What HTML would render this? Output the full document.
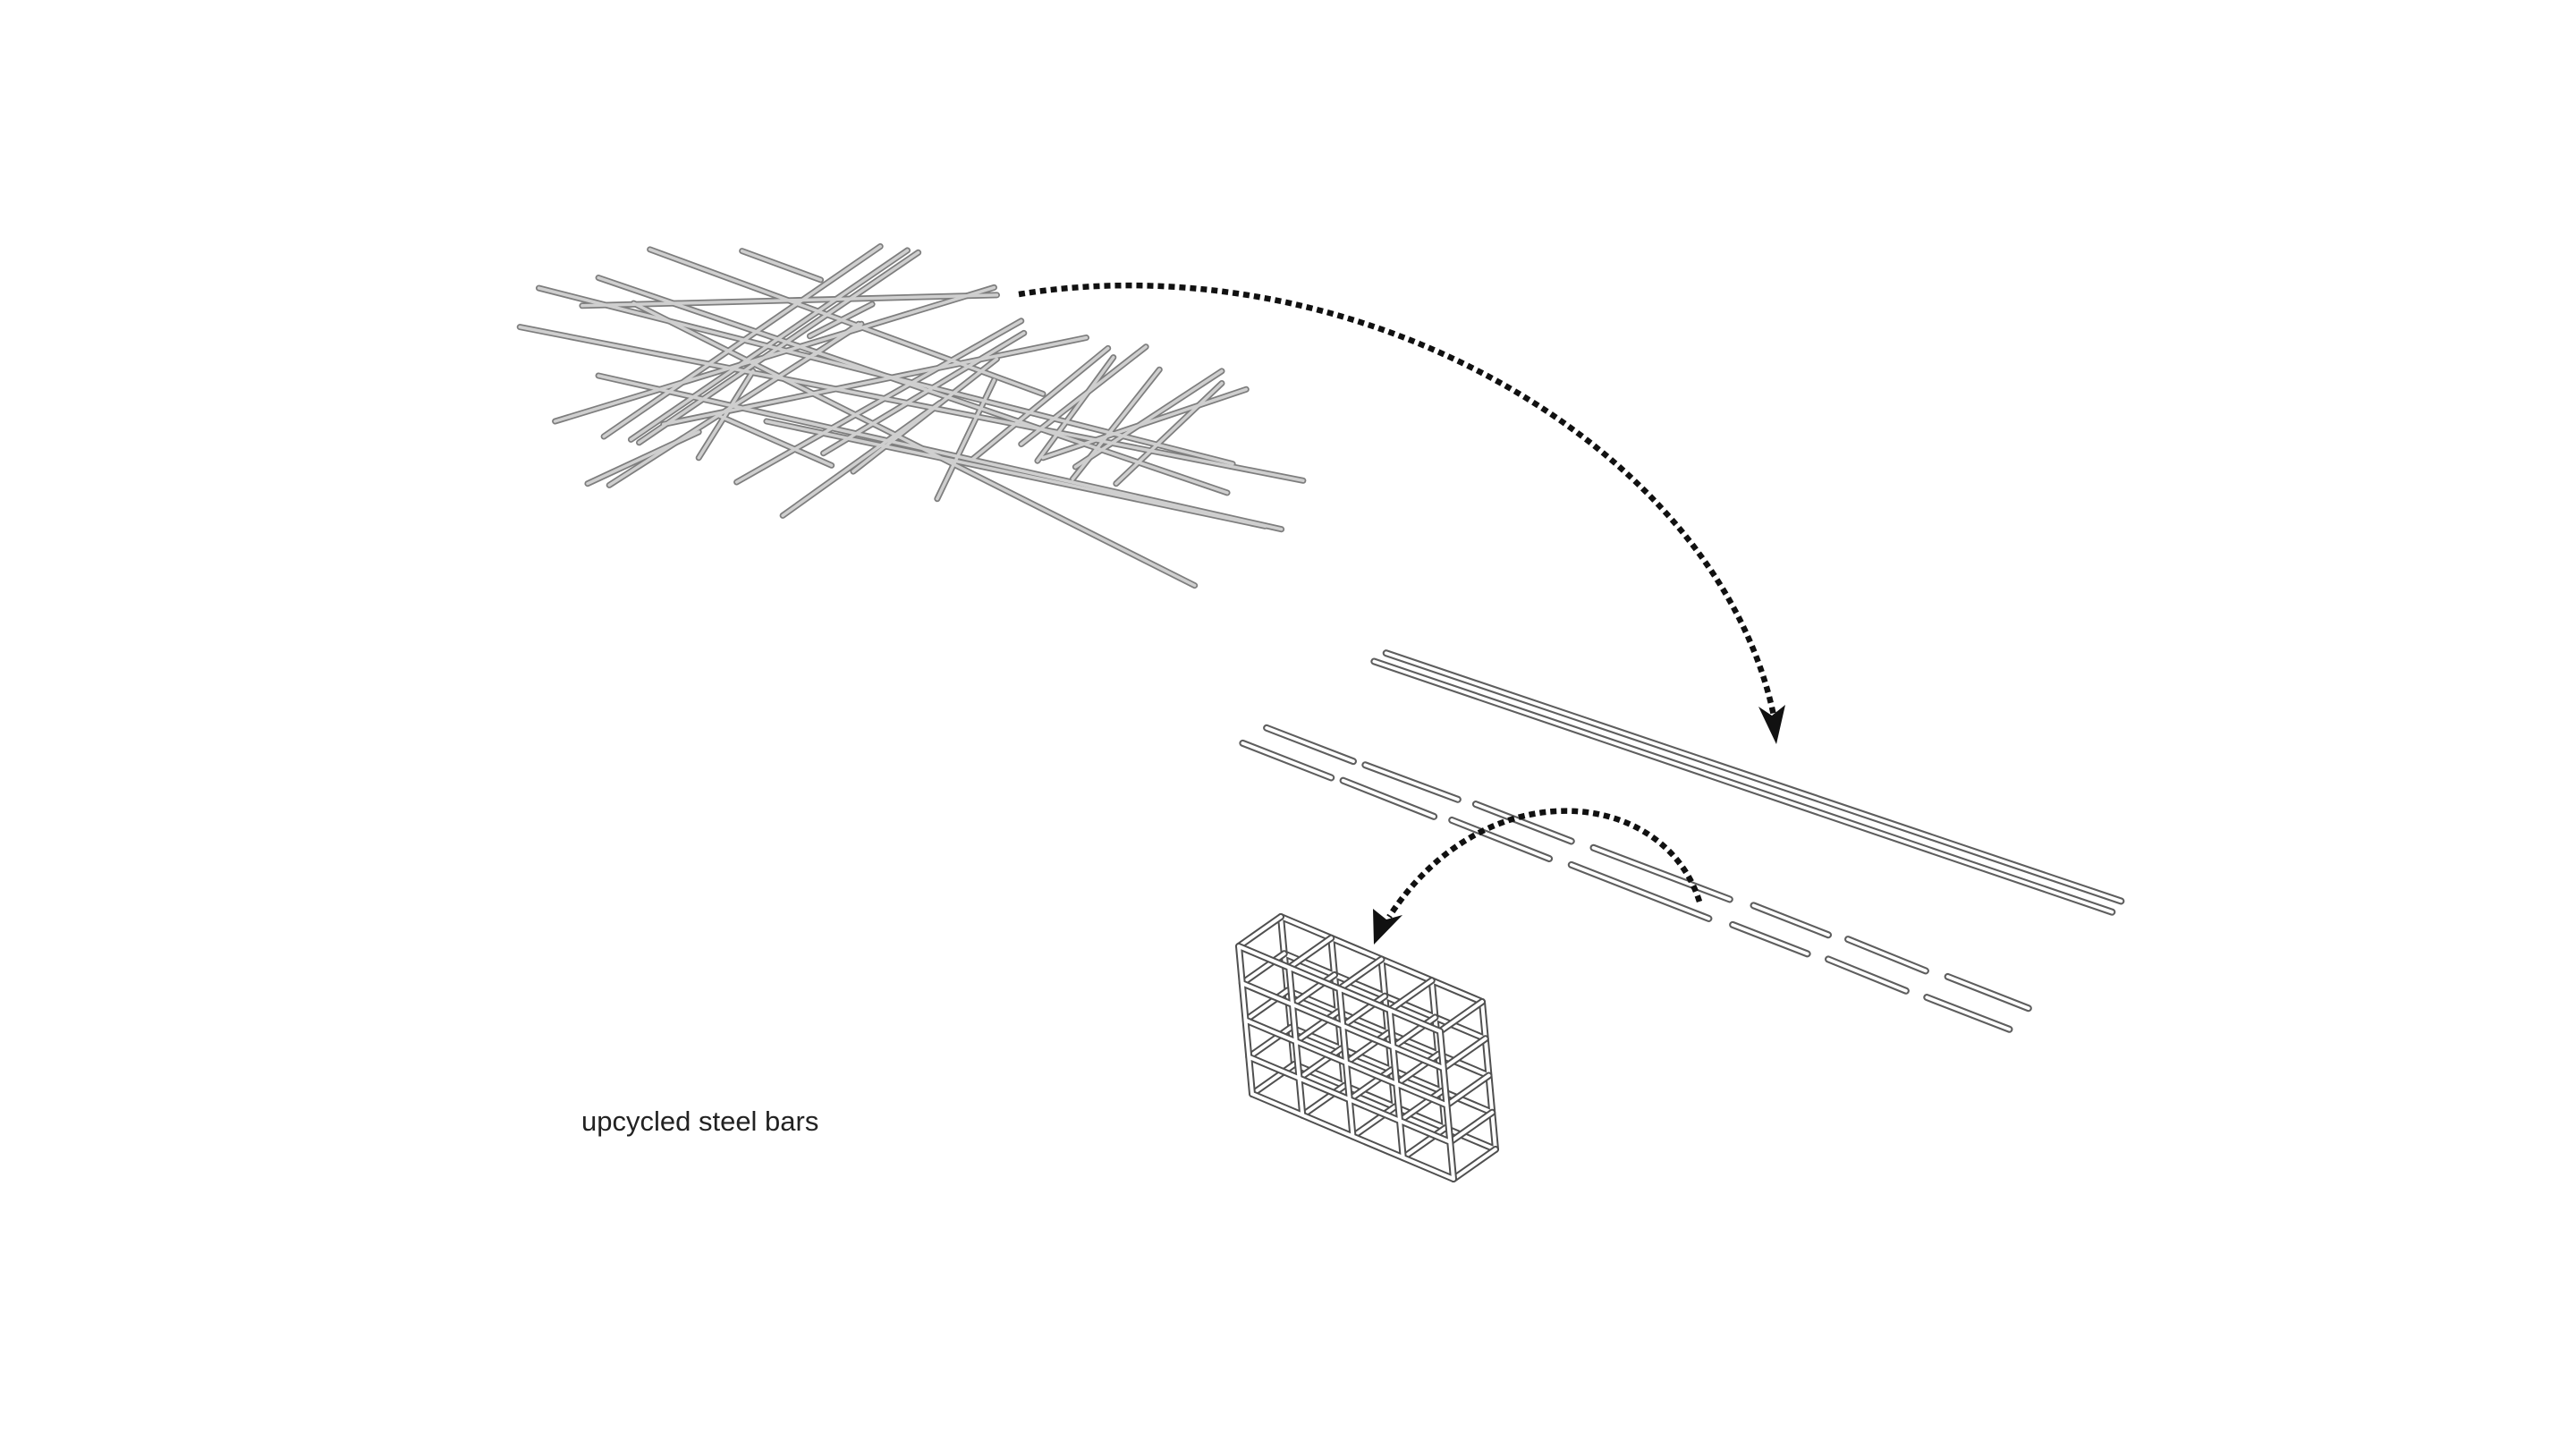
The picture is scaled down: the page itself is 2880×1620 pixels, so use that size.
<!DOCTYPE html>
<html><head><meta charset="utf-8"><style>
html,body{margin:0;padding:0;background:#fff;}
svg{display:block;}
</style></head><body>
<svg width="2880" height="1620" viewBox="0 0 2880 1620" xmlns="http://www.w3.org/2000/svg">
<defs>
<g id="pile" fill="none" stroke-linecap="round">
<path vector-effect="non-scaling-stroke" d="M275,85 L1000,560"/>
<path vector-effect="non-scaling-stroke" d="M445,90 L590,185"/>
<path vector-effect="non-scaling-stroke" d="M180,178 L1340,885"/>
<path vector-effect="non-scaling-stroke" d="M70,212 L1350,790"/>
<path vector-effect="non-scaling-stroke" d="M35,340 L1480,845"/>
<path vector-effect="non-scaling-stroke" d="M245,262 L1280,1190"/>
<path vector-effect="non-scaling-stroke" d="M180,500 L1440,1005"/>
<path vector-effect="non-scaling-stroke" d="M490,650 L1410,995"/>
<path vector-effect="non-scaling-stroke" d="M400,630 L610,795"/>
<path vector-effect="non-scaling-stroke" d="M100,650 L910,210"/>
<path vector-effect="non-scaling-stroke" d="M190,700 L700,75"/>
<path vector-effect="non-scaling-stroke" d="M240,710 L750,88"/>
<path vector-effect="non-scaling-stroke" d="M255,720 L770,95"/>
<path vector-effect="non-scaling-stroke" d="M160,855 L365,685"/>
<path vector-effect="non-scaling-stroke" d="M200,860 L665,330"/>
<path vector-effect="non-scaling-stroke" d="M365,770 L465,485"/>
<path vector-effect="non-scaling-stroke" d="M435,850 L960,320"/>
<path vector-effect="non-scaling-stroke" d="M595,755 L965,360"/>
<path vector-effect="non-scaling-stroke" d="M650,815 L915,445"/>
<path vector-effect="non-scaling-stroke" d="M520,960 L810,590"/>
<path vector-effect="non-scaling-stroke" d="M805,905 L910,515"/>
<path vector-effect="non-scaling-stroke" d="M870,775 L1120,410"/>
<path vector-effect="non-scaling-stroke" d="M960,725 L1190,405"/>
<path vector-effect="non-scaling-stroke" d="M990,780 L1130,440"/>
<path vector-effect="non-scaling-stroke" d="M1055,840 L1215,480"/>
<path vector-effect="non-scaling-stroke" d="M1060,800 L1330,485"/>
<path vector-effect="non-scaling-stroke" d="M1135,855 L1330,525"/>
<path vector-effect="non-scaling-stroke" d="M1000,770 L1375,545"/>
<path vector-effect="non-scaling-stroke" d="M300,660 L1080,375"/>
<path vector-effect="non-scaling-stroke" d="M570,370 L685,265"/>
<path vector-effect="non-scaling-stroke" d="M150,270 L915,235"/>
<path vector-effect="non-scaling-stroke" d="M580,430 L660,330"/>
</g>
<g id="bars" fill="none" stroke-linecap="round">
<path vector-effect="non-scaling-stroke" d="M275,62 L1505,745"/>
<path vector-effect="non-scaling-stroke" d="M255,85 L1490,775"/>
<path vector-effect="non-scaling-stroke" d="M75,268 L220,360 M240,370 L395,465 M425,478 L585,580 M622,598 L850,740 M890,757 L1015,838 M1048,850 L1178,937 M1215,953 L1350,1040"/>
<path vector-effect="non-scaling-stroke" d="M35,310 L183,405 M203,413 L355,512 M385,522 L548,628 M585,645 L815,793 M855,810 L980,890 M1015,905 L1145,992 M1180,1010 L1318,1098"/>
</g>
<g id="face" fill="none" stroke-linecap="round">
<path vector-effect="non-scaling-stroke" d="M0,0H4M0,1H4M0,2H4M0,3H4M0,4H4M0,0V4M1,0V4M2,0V4M3,0V4M4,0V4"/>
</g>
<g id="conn" fill="none" stroke-linecap="round">
<path vector-effect="non-scaling-stroke" d="M0,0l0.924,-1.332M1,0l0.924,-1.332M2,0l0.924,-1.332M3,0l0.924,-1.332M4,0l0.924,-1.332
M0,1l0.924,-1.332M1,1l0.924,-1.332M2,1l0.924,-1.332M3,1l0.924,-1.332M4,1l0.924,-1.332
M0,2l0.924,-1.332M1,2l0.924,-1.332M2,2l0.924,-1.332M3,2l0.924,-1.332M4,2l0.924,-1.332
M0,3l0.924,-1.332M1,3l0.924,-1.332M2,3l0.924,-1.332M3,3l0.924,-1.332M4,3l0.924,-1.332
M0,4l0.924,-1.332M1,4l0.924,-1.332M2,4l0.924,-1.332M3,4l0.924,-1.332M4,4l0.924,-1.332"/>
</g>
</defs>

<g transform="translate(560,250) scale(0.606,0.340)">
<use href="#pile" stroke="#7e7e7e" stroke-width="7"/>
<use href="#pile" stroke="#cfcfcf" stroke-width="3.5"/>
</g>

<g transform="translate(1366,705) scale(0.668,0.406)">
<use href="#bars" stroke="#5e5e5e" stroke-width="8"/>
<use href="#bars" stroke="#ffffff" stroke-width="3.8"/>
</g>

<g transform="matrix(56.25,23.75,3.75,41.25,1432,1025)">
<use href="#face" stroke="#505050" stroke-width="8"/>
<use href="#face" stroke="#ffffff" stroke-width="4"/>
</g>
<g transform="matrix(56.25,23.75,3.75,41.25,1385,1058)">
<use href="#conn" stroke="#505050" stroke-width="8"/>
<use href="#conn" stroke="#ffffff" stroke-width="4"/>
<use href="#face" stroke="#505050" stroke-width="8"/>
<use href="#face" stroke="#ffffff" stroke-width="4"/>
</g>

<path d="M1139,329 C1514,268 1920,498 1983,800" fill="none" stroke="#111" stroke-width="6.5" stroke-dasharray="7 5"/>
<polygon points="1986,832 1966,790 1981,800 1996,788" fill="#111"/>
<path d="M1900,1008 C1860,880 1660,860 1553,1025" fill="none" stroke="#111" stroke-width="6.5" stroke-dasharray="7 5"/>
<polygon points="1536,1056 1535,1016 1550,1028 1568,1023" fill="#111"/>

<text x="650" y="1264" font-family="Liberation Sans, sans-serif" font-size="31" fill="#222">upcycled steel bars</text>
</svg>
</body></html>
